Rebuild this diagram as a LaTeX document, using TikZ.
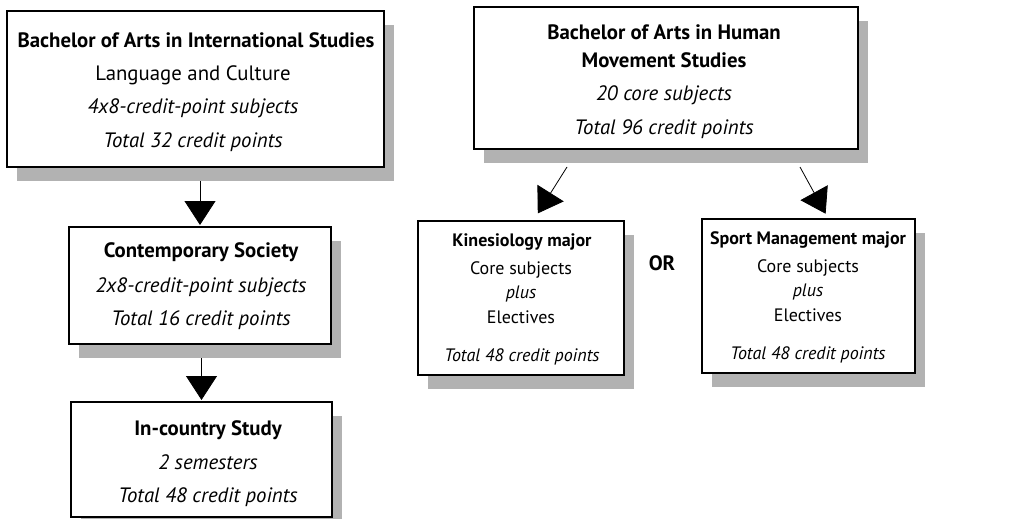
\documentclass[tikz,border=0pt]{standalone}
\usepackage{fontspec}
\setmainfont{PT Sans}
\usetikzlibrary{arrows.meta,calc}
\tikzset{
  panelbox/.style={draw=black,line width=1.1pt,fill=white,inner sep=0pt,outer sep=0pt},
  panelshade/.style={fill=black!30,draw=none,inner sep=0pt,outer sep=0pt},
  txt/.style={inner sep=0pt,yshift=-5pt,font=\fontsize{20.8}{24}\selectfont,text height=0.72em,text depth=0.22em},
  smalltxt/.style={inner sep=0pt,yshift=-3.5pt,font=\fontsize{18}{21}\selectfont,text height=0.72em,text depth=0.22em},
  flow/.style={draw=black,line width=0.8pt,-{Triangle[length=24pt,width=31pt]}},
}
% a panel with its drop shadow: name, left, top, right, bottom
\newcommand\panel[5]{%
  \node[panelshade,minimum width={#4-#2},minimum height={#5-#3}] (#1s) at ({(#2+#4)/2+10},{(#3+#5)/2+14}) {};
  \node[panelbox,minimum width={#4-#2},minimum height={#5-#3}] (#1) at ({(#2+#4)/2},{(#3+#5)/2}) {};
}
\begin{document}
\begin{tikzpicture}[x=1pt,y=-1pt]
\useasboundingbox (0,0) rectangle (1021,519);
\fill[white] (0,0) rectangle (1021,519);

% left column
\panel{intl}{7}{11}{384}{167}
\node[txt] (intl1) at (196,40) {\bfseries Bachelor of Arts in International Studies};
\node[txt] (intl2) at (193,73) {Language and Culture};
\node[txt] (intl3) at (193,106) {\itshape 4x8-credit-point subjects};
\node[txt] (intl4) at (193,140) {\itshape Total 32 credit points};

\panel{soc}{69}{227}{331}{344}
\node[txt] (soc1) at (201,250) {\bfseries Contemporary Society};
\node[txt] (soc2) at (201,285) {\itshape 2x8-credit-point subjects};
\node[txt] (soc3) at (201,318) {\itshape Total 16 credit points};

\panel{ctry}{71}{402}{332}{517}
\node[txt] (ctry1) at (208,428) {\bfseries In-country Study};
\node[txt] (ctry2) at (208,462) {\itshape 2 semesters};
\node[txt] (ctry3) at (208,495) {\itshape Total 48 credit points};

% right group
\panel{hms}{474}{7}{858}{149}
\node[txt] (hms1) at (664,32) {\bfseries Bachelor of Arts in Human};
\node[txt] (hms2) at (664,60) {\bfseries Movement Studies};
\node[txt] (hms3) at (664,93) {\itshape 20 core subjects};
\node[txt] (hms4) at (664,127) {\itshape Total 96 credit points};

\panel{kin}{418}{221}{624}{375}
\node[smalltxt] (kin1) at (522,240) {\bfseries Kinesiology major};
\node[smalltxt] (kin2) at (521,268) {Core subjects};
\node[smalltxt] (kin3) at (521,292) {\itshape plus};
\node[smalltxt] (kin4) at (521,317) {Electives};
\node[smalltxt] (kin5) at (522,355) {\itshape Total 48 credit points};

\panel{spm}{702}{219}{915}{373}
\node[smalltxt] (spm1) at (808,238) {\bfseries Sport Management major};
\node[smalltxt] (spm2) at (808,266) {Core subjects};
\node[smalltxt] (spm3) at (808,290) {\itshape plus};
\node[smalltxt] (spm4) at (808,315) {Electives};
\node[smalltxt] (spm5) at (808,353) {\itshape Total 48 credit points};

\node[txt] (or) at (662,263) {\bfseries OR};

% connectors
\draw[flow,shorten >=2pt] (intls.south -| soc.north) -- (soc.north);
\draw[flow,shorten >=2pt] (socs.south -| ctry.north) -- (ctry.north);
\coordinate (hmsL) at ($(hms.south)+(-99,18)$);
\coordinate (hmsR) at ($(hms.south)+(134,18)$);
\coordinate (kinT) at ($(kin.north)+(12,0)$);
\coordinate (spmT) at ($(spm.north)+(20,0)$);
\draw[flow,shorten >=9pt] (hmsL) -- (kinT);
\draw[flow,shorten >=6pt] (hmsR) -- (spmT);
\end{tikzpicture}
\end{document}
